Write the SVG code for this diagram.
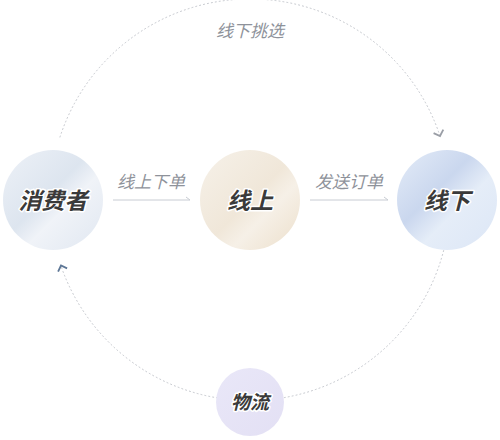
<svg xmlns="http://www.w3.org/2000/svg" width="500" height="440" viewBox="0 0 500 440">
<style>
.dot{fill:none;stroke:#c3c6cc;stroke-width:1;stroke-dasharray:1 3;stroke-linecap:round}
.ln{fill:none;stroke:#c8ccd3;stroke-width:1}
.lbl{font-family:"Noto Sans CJK SC","Noto Sans",sans-serif;font-size:17px;font-style:italic;fill:#8e929a;text-anchor:middle}
.nt{font-family:"Noto Sans CJK SC","Noto Sans",sans-serif;font-size:23px;font-weight:bold;font-style:italic;fill:#3a3a3a;text-anchor:middle;stroke:#fff;stroke-width:3;paint-order:stroke;stroke-linejoin:round}
</style>
<defs>
<linearGradient id="gA" x1="0" y1="0" x2="1" y2="1">
<stop offset="0" stop-color="#edf1f7"/>
<stop offset="0.45" stop-color="#dde5ef"/>
<stop offset="0.6" stop-color="#f0f3f8"/>
<stop offset="1" stop-color="#e0e7f1"/>
</linearGradient>
<linearGradient id="gB" x1="0" y1="0" x2="1" y2="1">
<stop offset="0" stop-color="#f6f1e9"/>
<stop offset="0.5" stop-color="#f0e7d9"/>
<stop offset="0.65" stop-color="#f6f0e7"/>
<stop offset="1" stop-color="#ecdfcb"/>
</linearGradient>
<linearGradient id="gC" x1="0" y1="0" x2="1" y2="1">
<stop offset="0" stop-color="#e4ecf8"/>
<stop offset="0.4" stop-color="#cad7ee"/>
<stop offset="0.6" stop-color="#e5edf8"/>
<stop offset="1" stop-color="#dce6f6"/>
</linearGradient>
<linearGradient id="gD" x1="0" y1="0" x2="1" y2="1">
<stop offset="0" stop-color="#e9e7f8"/>
<stop offset="1" stop-color="#e3e0f4"/>
</linearGradient>
</defs>
<g id="connectors">
<path class="dot" d="M 60 137 A 200 200 0 0 1 440 136"/>
<polyline fill="none" stroke="#9a9ea6" stroke-width="1.8" points="433.6,133.1 440,136 443.3,129.6"/>
<path class="dot" d="M 447 235 A 200 200 0 0 1 61 266"/>
<polyline fill="none" stroke="#5e7796" stroke-width="1.8" points="67.1,268.4 61,265.5 58.1,271.6"/>
<path class="ln" d="M 113 200 H 190 L 186 197"/>
<path class="ln" d="M 310 200 H 388 L 384 197"/>
<text class="lbl" x="250" y="37">线下挑选</text>
<text class="lbl" x="151" y="188">线上下单</text>
<text class="lbl" x="349" y="188">发送订单</text>
</g>
<g id="consumer">
<circle cx="53" cy="200" r="50" fill="url(#gA)"/>
<text class="nt" x="53" y="209">消费者</text>
</g>
<g id="online">
<circle cx="250" cy="200" r="50" fill="url(#gB)"/>
<text class="nt" x="250" y="209">线上</text>
</g>
<g id="offline">
<circle cx="447" cy="200" r="50" fill="url(#gC)"/>
<text class="nt" x="447" y="209">线下</text>
</g>
<g id="logistics">
<circle cx="250" cy="402" r="34" fill="url(#gD)"/>
<text class="nt" x="250" y="409" style="font-size:19px">物流</text>
</g>
</svg>
